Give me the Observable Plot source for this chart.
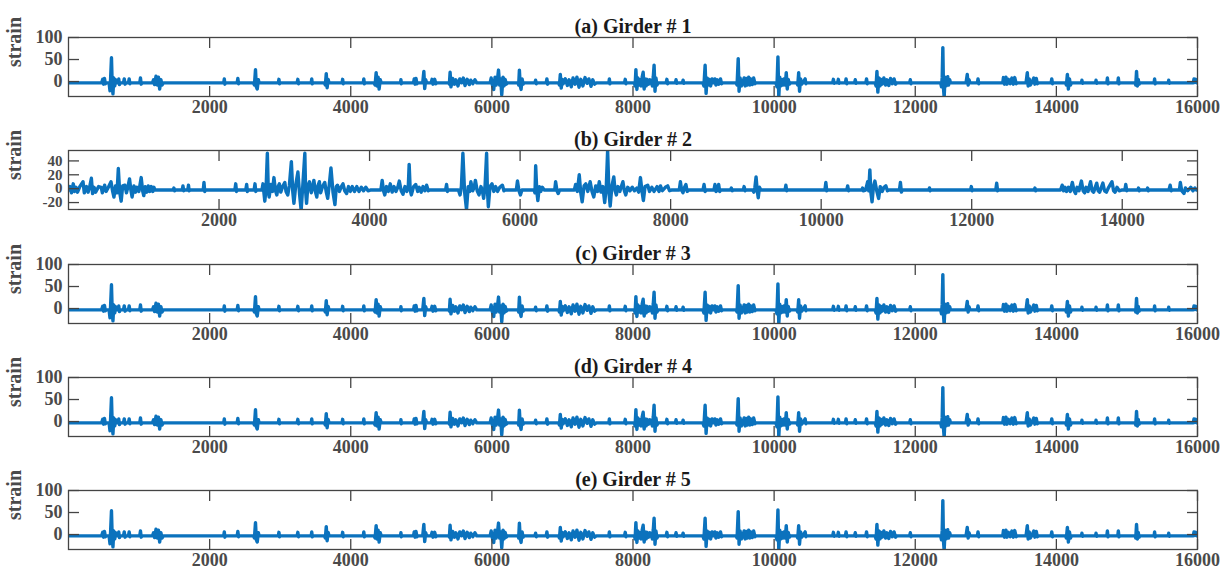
<!DOCTYPE html>
<html>
<head>
<meta charset="utf-8">
<script src="https://cdn.jsdelivr.net/npm/d3@7"></script>
<script src="https://cdn.jsdelivr.net/npm/@observablehq/plot@0.6"></script>
<style>
  html, body { margin: 0; padding: 0; background: #fff; overflow: hidden; }
  #wrap { position: relative; width: 1229px; height: 571px; }
  #wrap svg { position: absolute; left: 0; overflow: visible; }
</style>
</head>
<body>
<div id="wrap"></div>
<script>
// ---- data: [sample index, strain] vertices ----
const girder1 = [
[0,-3],[470,-3],[485,5],[497,-6],[510,7],[522,-5],[535,-3],
[575,-3],[588,-21],[597,8],[609,54],[620,-10],[630,-28],[642,8],[655,-10],[668,4],[680,-3],
[705,-3],[712,6],[722,-7],[732,-3],[780,-3],[790,6],[802,-6],[812,-3],[850,-3],[860,6],[870,-5],[880,-3],
[1010,-3],[1020,8],[1030,-6],[1040,-3],
[1190,-3],[1205,4],[1220,-7],[1240,12],[1258,-8],[1275,10],[1292,-17],[1310,4],[1325,-8],[1345,-3],
[2200,-3],[2208,6],[2216,-6],[2224,-3],
[2390,-3],[2400,7],[2410,-5],[2420,-3],
[2620,-3],[2635,-8],[2650,27],[2662,-12],[2675,-17],[2690,4],[2702,-3],
[2975,-3],[2982,5],[2990,-5],[2998,-3],
[3240,-3],[3250,5],[3260,-5],[3270,-3],
[3440,-3],[3447,6],[3455,-5],[3463,-3],
[3625,-3],[3640,-8],[3653,18],[3665,-14],[3680,5],[3692,-3],
[3878,-3],[3885,5],[3893,-5],[3901,-3],
[4178,-3],[4185,6],[4193,-5],[4201,-3],
[4330,-3],[4345,-8],[4360,20],[4372,-10],[4388,10],[4402,-17],[4418,4],[4432,-3],
[4705,-3],[4711,4],[4718,-5],[4725,-3],
[4890,-3],[4900,6],[4912,-6],[4925,7],[4938,-5],[4952,-3],
[5020,-3],[5036,23],[5048,-16],[5062,4],[5075,-3],
[5140,-3],[5152,5],[5165,-6],[5190,5],[5205,-5],[5220,-3],
[5390,-3],[5398,-6],[5408,21],[5420,-12],[5445,7],[5470,-6],[5490,4],[5520,-10],[5545,6],[5570,-3],[5595,8],[5620,-9],[5650,5],[5680,-7],[5700,3],[5730,-5],[5760,4],[5785,-3],
[5975,-3],[5990,8],[6005,-6],[6026,-18],[6045,10],[6060,-8],[6080,6],[6094,26],[6110,-8],[6125,6],[6140,-30],[6158,10],[6172,-10],[6188,5],[6205,-6],[6222,-3],
[6370,-3],[6380,-8],[6390,26],[6402,-10],[6414,-18],[6428,6],[6442,-6],[6455,-3],
[6610,-3],[6620,3],[6630,-5],[6640,-3],
[6770,-3],[6780,6],[6790,-6],[6800,-3],
[6945,-3],[6958,-8],[6970,16],[6983,-15],[6998,5],[7010,-5],
[7040,6],[7070,-9],[7095,4],[7125,-12],[7150,8],[7180,-6],[7205,10],[7235,-13],[7260,5],[7290,-10],[7320,9],[7350,-4],[7375,6],[7405,-11],[7430,4],[7455,-6],[7480,-3],
[7658,-3],[7665,6],[7673,-5],[7681,-3],
[7880,-3],[7890,5],[7900,-5],[7910,-3],
[8020,-3],[8030,-10],[8041,27],[8055,-18],[8070,8],[8085,-8],[8100,4],[8115,-10],[8130,10],[8144,21],[8158,-17],[8172,6],[8186,-10],[8200,5],[8220,-6],[8240,4],[8260,-3],[8275,-10],[8288,12],[8299,37],[8312,-22],[8325,8],[8340,-8],[8355,-3],
[8470,-3],[8480,5],[8490,-5],[8500,-3],
[8600,-3],[8610,4],[8620,-4],[8630,-3],
[8700,-3],[8710,3],[8720,-4],[8730,-3],
[8990,-3],[9005,-10],[9022,37],[9036,-27],[9050,8],[9065,-8],[9080,5],[9100,-10],[9120,6],[9140,-3],[9160,6],[9175,-8],[9195,4],[9215,-6],[9240,6],[9255,-5],[9270,-3],
[9460,-3],[9475,-8],[9491,52],[9503,-22],[9518,8],[9535,-10],[9555,-3],[9575,8],[9590,-10],[9605,7],[9620,-8],[9640,10],[9655,-8],[9670,6],[9690,-7],[9710,8],[9728,-5],[9745,-3],
[10025,-3],[10040,-12],[10054,56],[10066,-35],[10080,10],[10095,-10],[10110,4],[10125,-8],[10140,6],[10158,-8],[10172,20],[10186,-17],[10200,5],[10215,-6],[10235,-3],[10320,-3],[10335,-8],[10348,20],[10360,-22],[10375,6],[10390,-6],[10405,-3],[10440,6],[10450,-5],[10460,-3],
[10830,-3],[10840,5],[10850,-4],[10860,-3],[10900,-3],[10910,5],[10920,-4],[10930,-3],[11010,-3],[11020,6],[11030,-5],[11040,-3],[11140,-3],[11150,4],[11160,-4],[11170,-3],
[11300,-3],[11310,6],[11320,-5],[11330,-3],
[11430,-3],[11445,-10],[11457,23],[11470,-24],[11485,8],[11500,-10],[11515,5],[11530,-6],[11555,8],[11580,-8],[11600,4],[11625,-9],[11650,7],[11675,-5],[11700,6],[11720,-6],[11740,-3],
[11920,-3],[11930,4],[11940,-5],[11950,-3],
[12360,-3],[12372,-12],[12382,10],[12391,77],[12400,-15],[12410,-36],[12422,10],[12436,-10],[12450,6],[12460,11],[12472,-8],[12488,4],[12500,-3],
[12720,-3],[12737,16],[12750,-8],[12762,4],[12775,-3],
[12880,-3],[12890,6],[12900,-5],[12910,-3],
[13240,-3],[13250,9],[13265,-6],[13285,10],[13300,-6],[13320,5],[13345,-5],[13370,8],[13390,-6],[13410,9],[13430,-5],[13445,-3],
[13570,-3],[13588,20],[13600,-10],[13615,6],[13630,-8],[13650,-3],[13680,8],[13695,-6],[13715,7],[13730,-5],[13745,-3],
[13925,-3],[13935,6],[13945,-5],[13955,-3],
[14130,-3],[14142,-8],[14156,16],[14170,-17],[14185,6],[14200,-8],[14215,-3],
[14355,-3],[14362,3],[14370,-4],[14378,-3],
[14555,-3],[14562,3],[14570,-4],[14578,-3],
[14715,-3],[14723,8],[14732,-5],[14740,-3],
[14870,-3],[14878,8],[14887,-5],[14895,-3],
[15115,-3],[15125,-8],[15136,23],[15148,-10],[15160,5],[15172,-6],[15185,-3],
[15385,-3],[15392,6],[15400,-5],[15408,-3],
[15585,-3],[15592,3],[15600,-4],[15608,-3],
[15940,-3],[15951,6],[15960,-2],[15975,5],[15990,-3],[16000,-2]
];

const girder2 = [
[0,-2],[20,3],[40,-6],[63,7],[80,-4],[100,2],[120,-5],[150,3],[193,10],[210,-6],[240,3],[260,-5],[280,2],[304,15],[320,-7],[340,2],[360,-5],[400,3],[435,2],[450,-6],[480,5],[500,-4],[530,2],[565,10],[585,-3],[604,-12],[625,4],[645,-6],[662,29],[680,-5],[700,-18],[720,4],[749,5],[770,-6],[790,3],[811,14],[830,-3],[845,-12],[870,4],[890,-5],[910,2],[935,-4],[966,16],[985,-3],[1000,-10],[1020,3],[1040,-5],[1060,4],[1080,-4],[1100,3],[1120,-4],[1135,2],[1150,-2],
[1390,-2],[1400,1],[1410,-3],[1420,-2],[1510,-2],[1521,4],[1530,-3],[1540,-2],[1585,-2],[1594,5],[1603,-3],[1612,-2],[1790,-2],[1800,9],[1810,-4],[1820,-2],
[2210,-2],[2222,7],[2232,-4],[2242,-2],[2355,-2],[2367,6],[2377,-4],[2387,-2],[2466,-2],[2478,7],[2488,-4],[2498,-2],
[2570,-2],[2584,7],[2608,-18],[2625,0],[2642,51],[2655,-5],[2666,-12],[2690,6],[2710,-4],[2729,16],[2750,-3],[2768,-9],[2785,3],[2801,7],[2820,-5],[2845,3],[2874,9],[2890,-4],[2913,-9],[2935,5],[2961,39],[2980,-5],[2995,-21],[3020,6],[3048,24],[3070,-8],[3091,-31],[3115,8],[3140,51],[3150,-3],[3163,-21],[3180,4],[3202,10],[3225,-6],[3245,3],[3260,12],[3280,-4],[3299,-12],[3315,4],[3333,10],[3350,-6],[3375,3],[3405,9],[3425,-5],[3444,-14],[3465,6],[3487,30],[3515,-6],[3540,-23],[3558,3],[3574,5],[3600,-4],[3625,3],[3647,7],[3670,-3],[3695,-7],[3720,3],[3745,-4],[3770,3],[3800,-4],[3830,3],[3860,-4],[3890,2],[3920,-3],[3950,2],[3980,-3],[4010,-2],
[4150,-2],[4168,12],[4185,-3],[4202,-9],[4225,3],[4250,-4],[4275,7],[4300,-5],[4325,3],[4350,-4],[4375,2],[4395,11],[4420,-3],[4444,-8],[4470,3],[4495,-4],[4515,5],[4526,35],[4540,-2],[4555,-9],[4585,3],[4613,6],[4640,-4],[4660,2],[4685,-5],[4710,3],[4735,-3],[4758,5],[4780,-3],[4800,-2],
[5010,-2],[5023,6],[5035,-4],[5045,-2],
[5180,-2],[5202,-9],[5220,3],[5240,51],[5262,-4],[5288,-30],[5310,3],[5330,-4],[5346,10],[5370,-3],[5390,2],[5406,12],[5430,-3],[5454,-9],[5480,3],[5500,-4],[5516,-14],[5535,5],[5555,51],[5565,0],[5578,-26],[5600,3],[5627,7],[5650,-4],[5675,3],[5700,-4],[5730,2],[5765,5],[5785,-3],[5800,-2],
[5950,-2],[5965,11],[5985,-3],[6004,-9],[6025,-2],[6185,-2],[6198,-6],[6207,33],[6222,-4],[6236,-17],[6255,3],[6275,-4],[6295,2],[6320,-2],
[6460,-2],[6472,10],[6490,-3],[6506,-7],[6525,-2],
[6720,-2],[6738,6],[6760,-4],[6786,20],[6805,-5],[6825,-19],[6850,4],[6873,7],[6900,-4],[6931,10],[6955,-4],[6979,-12],[7005,4],[7030,-4],[7052,10],[7075,-5],[7100,3],[7124,-20],[7145,3],[7163,55],[7180,-5],[7197,-25],[7220,4],[7245,17],[7262,-3],[7279,-9],[7300,3],[7325,-4],[7345,3],[7366,10],[7385,-3],[7404,-9],[7430,2],[7460,-3],[7490,2],[7520,-3],[7551,1],[7575,-5],[7599,16],[7620,-4],[7638,-17],[7660,3],[7696,5],[7720,-4],[7750,2],[7780,-4],[7820,3],[7845,-4],[7865,4],[7890,-3],[7930,2],[7961,4],[7985,-3],[8010,-2],
[8115,-2],[8130,10],[8145,-2],[8164,-6],[8185,2],[8203,6],[8220,-4],[8240,-2],
[8430,-2],[8444,6],[8458,-4],[8472,-2],[8575,-2],[8589,6],[8603,-4],[8625,-2],[8638,6],[8652,-4],[8666,-2],
[8795,-2],[8807,1],[8820,-3],[8830,-2],[8965,-2],[8976,3],[8990,-3],[9000,-2],
[9090,-2],[9106,-5],[9120,2],[9135,17],[9150,-2],[9164,-13],[9180,2],[9200,-2],
[9520,-2],[9531,5],[9542,-3],[9552,-2],
[10050,-2],[10062,9],[10074,-3],[10084,-2],[10340,-2],[10352,4],[10364,-3],[10374,-2],
[10540,-2],[10550,1],[10560,-3],[10590,-2],[10618,10],[10632,-3],[10647,27],[10660,-5],[10676,-19],[10695,3],[10714,11],[10740,-4],[10763,-14],[10785,3],[10810,-4],[10835,2],[10859,4],[10880,-3],[10900,-2],
[11040,-2],[11053,9],[11066,-5],[11078,-2],
[11430,-2],[11439,1],[11448,-3],[11458,-2],[11985,-2],[11995,3],[12005,-3],[12015,-2],
[12320,-2],[12332,8],[12344,-3],[12356,-2],
[12830,-2],[12840,1],[12850,-3],[12860,-2],
[13180,-2],[13202,5],[13220,-3],[13240,2],[13260,-4],[13285,2],[13310,-4],[13337,9],[13360,-3],[13380,-7],[13400,2],[13425,-3],[13458,11],[13480,-3],[13500,-6],[13520,2],[13545,-4],[13579,10],[13600,-3],[13620,-5],[13661,8],[13680,-3],[13700,-5],[13743,8],[13765,-3],[13790,-5],[13820,2],[13864,10],[13885,-3],[13905,-5],[13930,2],[13960,-3],[13990,-2],
[14035,-2],[14047,6],[14060,-3],[14072,-2],[14206,-2],[14216,1],[14226,-3],[14236,-2],[14327,-2],[14337,1],[14347,-3],[14357,-2],
[14620,-2],[14637,5],[14650,-3],[14665,-2],[14760,-2],[14772,9],[14790,-3],[14820,-7],[14840,1],[14870,-3],[14910,2],[14940,-3],[14965,1],[14985,-2],[15000,-1]
];

// Girders 3, 4 and 5 show the same record as girder 1
const girder3 = girder1;
const girder4 = girder1;
const girder5 = girder1;

const titles = ["(a) Girder # 1", "(b) Girder # 2", "(c) Girder # 3", "(d) Girder # 4", "(e) Girder # 5"];
const series = [girder1, girder2, girder3, girder4, girder5];
const xMax = [16000, 15000, 16000, 16000, 16000];
const yDomains = [[-34, 100], [-30, 55], [-34, 100], [-34, 100], [-34, 100]];
const yTicks = [[0, 50, 100], [-20, 0, 20, 40], [0, 50, 100], [0, 50, 100], [0, 50, 100]];
const xTicksFull = [2000, 4000, 6000, 8000, 10000, 12000, 14000, 16000];
const xTicksB = [2000, 4000, 6000, 8000, 10000, 12000, 14000];

const wrap = document.getElementById("wrap");
const panelStep = 113.33;

series.forEach((data, i) => {
  const xt = xMax[i] === 16000 ? xTicksFull : xTicksB;
  const yFont = yTicks[i].length > 3 ? 15 : 18;
  const plot = Plot.plot({
    width: 1229,
    height: 120,
    marginLeft: 68,
    marginRight: 32,
    marginTop: 37,
    marginBottom: 24,
    style: {fontFamily: "'Liberation Serif', 'Times New Roman', serif", fontSize: "18px", fontWeight: "bold", color: "#4a4a4a", background: "transparent"},
    x: {domain: [0, xMax[i]], label: null},
    y: {domain: yDomains[i], label: null},
    marks: [
      Plot.line(data, {x: d => d[0], y: d => d[1], stroke: "#0b72bd", strokeWidth: 3.4, strokeLinejoin: "round", clip: true}),
      Plot.frame({stroke: "#444", strokeWidth: 1.3}),
      Plot.axisX(xt, {anchor: "bottom", tickSize: -10, text: null, stroke: "#444", strokeWidth: 1.3}),
      Plot.axisX(xt, {anchor: "top", tickSize: -10, text: null, stroke: "#444", strokeWidth: 1.3}),
      Plot.axisX(xt, {anchor: "bottom", tickSize: 0, tickPadding: 4, tickFormat: d => String(d), fill: "#4a4a4a", fontSize: 18}),
      Plot.axisY(yTicks[i], {anchor: "left", tickSize: -11, text: null, stroke: "#444", strokeWidth: 1.3}),
      Plot.axisY(yTicks[i], {anchor: "right", tickSize: -11, text: null, stroke: "#444", strokeWidth: 1.3}),
      Plot.axisY(yTicks[i], {anchor: "left", tickSize: 0, tickPadding: 6, tickFormat: d => String(d), fill: "#4a4a4a", fontSize: yFont}),
      Plot.text([titles[i]], {frameAnchor: "top", dy: -19, text: d => d, fontSize: 20, fontWeight: "bold", fill: "#1a1a1a"}),
      Plot.text(["strain"], {frameAnchor: "left", dx: -54, rotate: -90, text: d => d, fontSize: 20, fontWeight: "bold", fill: "#4a4a4a"})
    ]
  });
  plot.style.top = (i * panelStep) + "px";
  wrap.appendChild(plot);
});
</script>
</body>
</html>
